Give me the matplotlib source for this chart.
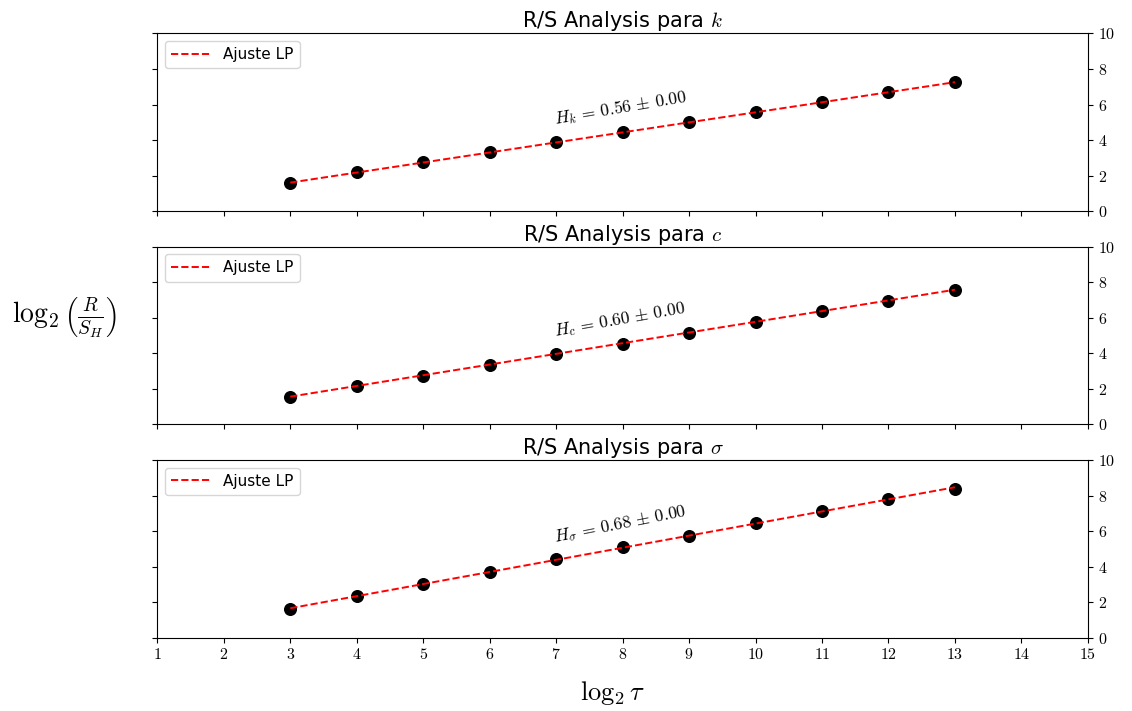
import numpy as np
import matplotlib

matplotlib.use("Agg")
import matplotlib.pyplot as plt
from matplotlib.ticker import FuncFormatter

plt.rcParams["mathtext.fontset"] = "cm"

log_tau = np.arange(3, 14)

rs_k = [1.57, 2.19, 2.75, 3.31, 3.88, 4.44, 5.00, 5.56, 6.12, 6.69, 7.25]
rs_c = [1.57, 2.19, 2.75, 3.37, 3.97, 4.55, 5.17, 5.79, 6.40, 6.97, 7.58]
rs_sigma = [1.62, 2.34, 3.00, 3.72, 4.42, 5.08, 5.75, 6.46, 7.14, 7.80, 8.38]

series = [("k", rs_k), ("c", rs_c), (r"\sigma", rs_sigma)]

fig, axes = plt.subplots(3, 1, figsize=(11.32, 7.11), dpi=100, sharex=True)
fig.subplots_adjust(left=0.139, right=0.961, top=0.953, bottom=0.103, hspace=0.2)

math_fmt = FuncFormatter(lambda v, pos: f"${v:g}$")

for ax, (name, values) in zip(axes, series):
    y = np.asarray(values)
    slope, intercept = np.polyfit(log_tau, y, 1)
    fit = slope * log_tau + intercept
    ax.scatter(log_tau, y, s=70, color="black", zorder=2)
    ax.plot(log_tau, fit, "r--", linewidth=1.4, label="Ajuste LP", zorder=3)
    ax.set_xlim(1, 15)
    ax.set_ylim(0, 10)
    ax.set_xticks(range(1, 16))
    ax.set_yticks(range(0, 11, 2))
    ax.xaxis.set_major_formatter(math_fmt)
    ax.yaxis.set_major_formatter(math_fmt)
    ax.tick_params(left=True, right=True, labelleft=False, labelright=True, labelsize=11.5)
    ax.set_title(f"R/S Analysis para ${name}$", fontsize=15, pad=3)
    ax.legend(loc="upper left", fontsize=11, handlelength=2.6)

    # rotate the slope label to follow the fitted line on screen
    fig.canvas.draw()
    p0 = ax.transData.transform((7, slope * 7 + intercept))
    p1 = ax.transData.transform((9, slope * 9 + intercept))
    angle = np.degrees(np.arctan2(p1[1] - p0[1], p1[0] - p0[0])) + 1.0
    ax.text(7, slope * 7 + intercept + 0.75,
            f"$H_{{{name}}} \\,=\\, {slope:.2f} \\,\\pm\\, 0.00$",
            rotation=angle, rotation_mode="anchor", ha="left", va="bottom", fontsize=12.5)

fig.text(0.057, 0.553, r"$\log_2\left(\frac{R}{S_H}\right)$", fontsize=20, ha="center", va="center")
fig.text(0.541, 0.025, r"$\log_2\tau$", fontsize=19, ha="center", va="center")

fig.savefig("out.png", dpi=100)
